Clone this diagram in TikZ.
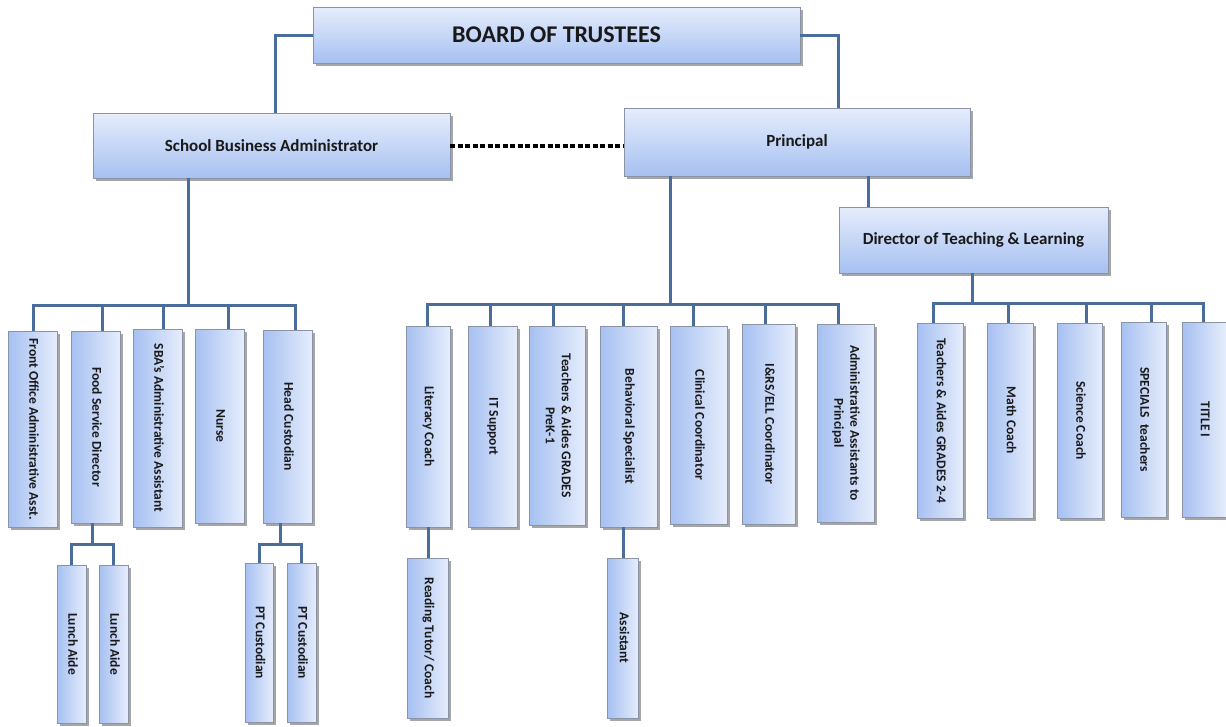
\documentclass[tikz,border=0pt]{standalone}
\usepackage{fontspec}
\setmainfont{Carlito}
\usetikzlibrary{shadows}
\definecolor{linkblue}{HTML}{4A6D99}
\definecolor{boxlight}{HTML}{E6EDFC}
\definecolor{boxdark}{HTML}{A6C0F1}
\definecolor{boxedge}{HTML}{8A94A6}
\newcommand\myvtext[1]{\rotatebox{-90}{\begin{tabular}{@{}c@{}}#1\end{tabular}}}
\begin{document}
\begin{tikzpicture}[x=1pt,y=-1pt,
  every node/.style={inner sep=0pt, outer sep=0pt},
  boxshadow/.style={drop shadow={shadow xshift=2.5pt, shadow yshift=-2.5pt, opacity=0.35, fill=black}},
  hbox/.style={draw=boxedge, line width=0.8pt, top color=boxlight, bottom color=boxdark, boxshadow,
    text=black!90, align=center, font=\bfseries\fontsize{17}{20}\selectfont},
  vbox/.style={draw=boxedge, line width=0.8pt, left color=boxdark, right color=boxlight, boxshadow,
    text=black!90, font=\bfseries\fontsize{13.5}{16}\selectfont},
  link/.style={draw=linkblue, line width=3pt},
  dotlink/.style={draw=black, line width=4pt, dash pattern=on 5pt off 2.5pt}]
\useasboundingbox (0,0) rectangle (1226,726);

% top level
\node[hbox, font=\bfseries\fontsize{24}{28}\selectfont, minimum width=487pt, minimum height=56pt] (board) at (556.5,35) {BOARD OF TRUSTEES};
\node[hbox, minimum width=357pt, minimum height=65pt] (sba) at (271.5,145.5) {School Business Administrator};
\node[hbox, minimum width=346pt, minimum height=68pt] (pri) at (797,142) {Principal};
\node[hbox, minimum width=269pt, minimum height=66pt] (dir) at (973.5,240) {Director of Teaching \& Learning};

% SBA children
\node[vbox, minimum width=49pt, minimum height=196pt] (fo) at (32.5,429) {\myvtext{Front Office Administrative Asst.}};
\node[vbox, minimum width=49pt, minimum height=192pt] (fsd) at (95.5,427) {\myvtext{Food Service Director}};
\node[vbox, minimum width=49pt, minimum height=198pt] (sbaa) at (157.5,428) {\myvtext{SBA's Administrative Assistant}};
\node[vbox, minimum width=49pt, minimum height=194pt] (nurse) at (219.5,426) {\myvtext{Nurse}};
\node[vbox, minimum width=49pt, minimum height=193pt] (hc) at (287.5,426.5) {\myvtext{Head Custodian}};

\node[vbox, minimum width=29pt, minimum height=158pt] (la1) at (71.5,644) {\myvtext{Lunch Aide}};
\node[vbox, minimum width=29pt, minimum height=158pt] (la2) at (113.5,644) {\myvtext{Lunch Aide}};
\node[vbox, minimum width=28pt, minimum height=159pt] (pt1) at (259,642.5) {\myvtext{PT Custodian}};
\node[vbox, minimum width=29pt, minimum height=159pt] (pt2) at (301.5,642.5) {\myvtext{PT Custodian}};

% Principal children
\node[vbox, minimum width=44pt, minimum height=201pt] (lc) at (428,426.5) {\myvtext{Literacy Coach}};
\node[vbox, minimum width=49pt, minimum height=201pt] (it) at (492.5,426.5) {\myvtext{IT Support}};
\node[vbox, minimum width=56pt, minimum height=199pt] (tpk) at (557,425.5) {\myvtext{Teachers \& Aides GRADES\\PreK-1}};
\node[vbox, minimum width=57pt, minimum height=201pt] (bs) at (628.5,426.5) {\myvtext{Behavioral Specialist}};
\node[vbox, minimum width=57pt, minimum height=198pt] (cc) at (698.5,425) {\myvtext{Clinical Coordinator}};
\node[vbox, minimum width=53pt, minimum height=200pt] (irs) at (768.5,424) {\myvtext{I\&RS/ELL Coordinator}};
\node[vbox, minimum width=57pt, minimum height=198pt] (aap) at (845.5,423) {\myvtext{Administrative Assistants to\\Principal}};

\node[vbox, minimum width=41pt, minimum height=160pt] (rt) at (428,638) {\myvtext{Reading Tutor/ Coach}};
\node[vbox, minimum width=31pt, minimum height=160pt] (as) at (623,638) {\myvtext{Assistant}};

% Director children
\node[vbox, minimum width=46pt, minimum height=195pt] (t24) at (940,420.5) {\myvtext{Teachers \& Aides GRADES 2-4}};
\node[vbox, minimum width=46pt, minimum height=195pt] (mc) at (1010,420.5) {\myvtext{Math Coach}};
\node[vbox, minimum width=45pt, minimum height=195pt] (sc) at (1079.5,420.5) {\myvtext{Science Coach}};
\node[vbox, minimum width=45pt, minimum height=195pt] (sp) at (1143.5,419.5) {\myvtext{SPECIALS\ \ teachers}};
\node[vbox, minimum width=44pt, minimum height=195pt] (t1) at (1204,419.5) {\myvtext{TITLE I}};

% connectors
\draw[link] (board.west) -| ([xshift=3.5pt]sba.north);
\draw[link] (board.east) -| ([xshift=41pt]pri.north);
\draw[dotlink] (sba.east) -- (sba.east -| pri.west);

\coordinate (lb) at (188,305);
\draw[link] ([xshift=-83.5pt]sba.south) -- (lb);
\draw[link] (lb) -| ([xshift=0.5pt]fo.north);
\draw[link] (lb) -| ([xshift=6.5pt]fsd.north);
\draw[link] (lb) -| ([xshift=5.5pt]sbaa.north);
\draw[link] (lb) -| ([xshift=8.5pt]nurse.north);
\draw[link] (lb) -| ([xshift=7.5pt]hc.north);

\coordinate (fb) at (92,544);
\draw[link] ([xshift=-3.5pt]fsd.south) -- (fb);
\draw[link] (fb) -| (la1.north);
\draw[link] (fb) -| (la2.north);
\coordinate (hb) at (280,544);
\draw[link] ([xshift=-7.5pt]hc.south) -- (hb);
\draw[link] (hb) -| (pt1.north);
\draw[link] (hb) -| (pt2.north);

\coordinate (pb) at (670,304);
\draw[link] ([xshift=-127pt]pri.south) -- (pb);
\draw[link] (pb) -| ([xshift=-1pt]lc.north);
\draw[link] (pb) -| ([xshift=-2.5pt]it.north);
\draw[link] (pb) -| ([xshift=-4pt]tpk.north);
\draw[link] (pb) -| ([xshift=-5.5pt]bs.north);
\draw[link] (pb) -| ([xshift=-5.5pt]cc.north);
\draw[link] (pb) -| ([xshift=-3.5pt]irs.north);
\draw[link] (pb) -| ([xshift=-7.5pt]aap.north);
\draw[link] (lc.south) -- (rt.north);
\draw[link] ([xshift=-5.5pt]bs.south) -- (as.north);

\draw[link] ([xshift=71pt]pri.south) -- ([xshift=-105.5pt]dir.north);
\coordinate (db) at (972,303);
\draw[link] ([xshift=-1.5pt]dir.south) -- (db);
\draw[link] (db) -| ([xshift=-7pt]t24.north);
\draw[link] (db) -| ([xshift=-2pt]mc.north);
\draw[link] (db) -| ([xshift=6.5pt]sc.north);
\draw[link] (db) -| ([xshift=7.5pt]sp.north);
\draw[link] (db) -| ([xshift=-1pt]t1.north);
\end{tikzpicture}
\end{document}
